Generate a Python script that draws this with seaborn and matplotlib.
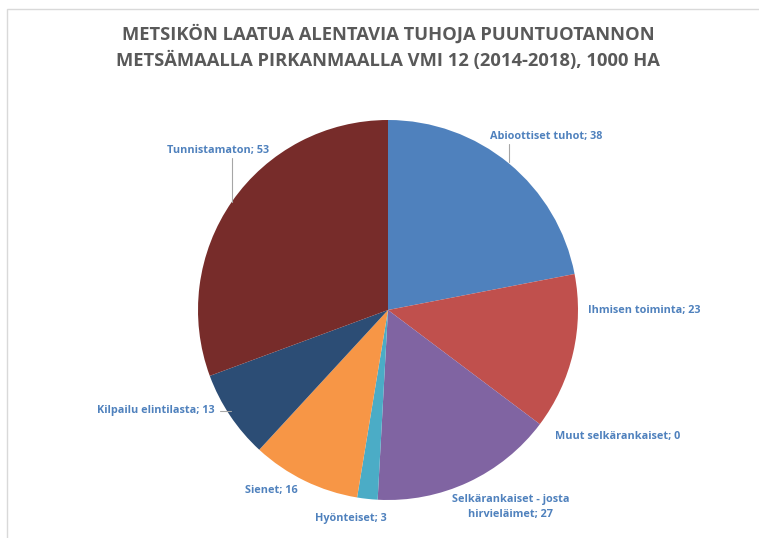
import matplotlib
matplotlib.use("Agg")
import matplotlib.pyplot as plt
import seaborn as sns
from matplotlib.patches import Rectangle

# data
categories = ["Abioottiset tuhot", "Ihmisen toiminta", "Muut selkärankaiset",
              "Selkärankaiset - josta\nhirvieläimet", "Hyönteiset", "Sienet",
              "Kilpailu elintilasta", "Tunnistamaton"]
values = [38, 23, 0, 27, 3, 16, 13, 53]
title = "METSIKÖN LAATUA ALENTAVIA TUHOJA PUUNTUOTANNON\nMETSÄMAALLA PIRKANMAALLA VMI 12 (2014-2018), 1000 HA"

colors = ["#4F81BD", "#C0504D", "#9BBB59", "#8064A2", "#4BACC6", "#F79646",
          "#2C4D75", "#772C2A"]

sns.set_theme(style="white")
plt.rcParams["font.family"] = ["Open Sans", "DejaVu Sans"]

W, H = 759, 538
fig = plt.figure(figsize=(W / 100, H / 100), dpi=100)
ax = fig.add_axes([0, 0, 1, 1])

# outer frame of the chart area
fig.patches.append(Rectangle((7 / W, -0.1), 1.2, (H - 9) / H + 0.1,
                             transform=fig.transFigure, fill=False,
                             edgecolor="#D9D9D9", linewidth=1))

ax.pie(values, colors=colors, startangle=90, counterclock=False,
       center=(388, H - 310), radius=190, frame=True,
       wedgeprops=dict(linewidth=0))
ax.set_xlim(0, W)
ax.set_ylim(0, H)
ax.set_aspect("equal")
ax.axis("off")

fig.text(388 / W, 1 - 47 / H, title, ha="center", va="center",
         fontsize=13.2, fontweight="bold", color="#595959", linespacing=1.45)

# label anchor points (pixels from top-left)
label_pos = [(546, 137), (644, 310), (618, 437), (511, 507), (351, 518),
             (271, 490), (156, 410), (218, 150)]
for name, v, (x, y) in zip(categories, values, label_pos):
    ax.text(x, H - y, f"{name}; {v}", ha="center", va="center", fontsize=7.8,
            fontweight="bold", color="#4F81BD", linespacing=1.5)

# leader lines
for (x0, y0), (x1, y1) in [((509, 144), (509, 162)), ((232, 158), (232, 202)),
                           ((220, 411), (231, 411))]:
    ax.plot([x0, x1], [H - y0, H - y1], color="#A6A6A6", linewidth=0.8)

fig.savefig("out.png", dpi=100)
